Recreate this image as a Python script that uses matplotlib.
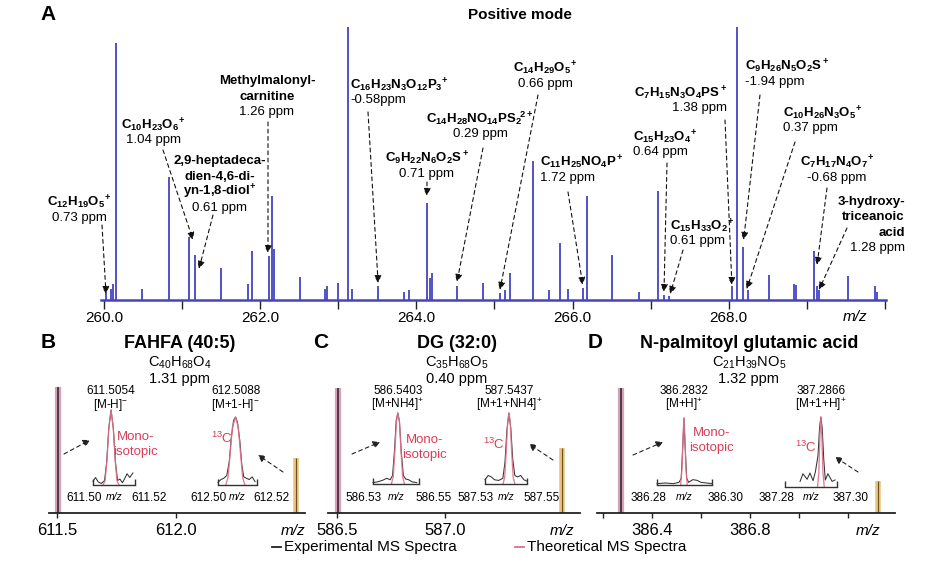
import matplotlib
matplotlib.use('Agg')
import matplotlib.pyplot as plt
import matplotlib.transforms as mtransforms
from matplotlib.lines import Line2D

plt.rcParams['font.family'] = ['Liberation Sans', 'DejaVu Sans']
plt.rcParams['mathtext.fontset'] = 'custom'
plt.rcParams['mathtext.rm'] = 'Liberation Sans'
plt.rcParams['mathtext.it'] = 'Liberation Sans:italic'
plt.rcParams['mathtext.bf'] = 'Liberation Sans:bold'
plt.rcParams['mathtext.default'] = 'regular'

# ---------------- DATA ----------------
# Panel A: positive-mode spectrum (m/z, relative intensity)
a_mz = [260.02, 260.09, 260.12, 260.15, 260.49, 260.83, 261.09, 261.17, 261.50, 261.85,
        261.90, 262.11, 262.15, 262.18, 262.51, 262.83, 262.86, 263.00, 263.13, 263.17,
        263.51, 263.84, 263.90, 264.13, 264.17, 264.20, 264.52, 264.85, 265.07, 265.13,
        265.20, 265.49, 265.70, 265.84, 265.94, 266.13, 266.18, 266.50, 266.85, 267.09,
        267.17, 267.24, 268.04, 268.10, 268.18, 268.24, 268.51, 268.83, 268.86, 269.09,
        269.13, 269.16, 269.53, 269.87, 269.90]
a_int = [2.5, 4, 6, 94, 4, 45, 23, 16.5, 11.7, 6,
         18, 16, 38, 18.7, 8.4, 4, 5, 6.3, 100, 4,
         5, 3, 3.5, 35.5, 8, 10, 5, 6.3, 2.5, 3.5,
         10, 51, 3.7, 21, 4, 4.5, 38, 16.5, 3, 40,
         2, 1.5, 5, 100, 19.5, 3.5, 9, 6, 5.5, 18,
         5, 3.5, 8.8, 5, 3]
a_ticks = [260, 261, 262, 263, 264, 265, 266, 267, 268, 269, 270]
a_ticklabels = ['260.0', '', '262.0', '', '264.0', '', '266.0', '', '268.0', '', '']

ann_labels = [
    [r'$\mathbf{C_{12}H_{19}O_5{}^{\!+}}$'],
    [r'$\mathbf{C_{10}H_{23}O_6{}^{\!+}}$'],
    ['2,9-heptadeca-', 'dien-4,6-di-', r'yn-1,8-diol$^\mathbf{+}$'],
    ['Methylmalonyl-', 'carnitine'],
    [r'$\mathbf{C_{16}H_{23}N_3O_{12}P_3{}^{\!+}}$'],
    [r'$\mathbf{C_9H_{22}N_6O_2S^+}$'],
    [r'$\mathbf{C_{14}H_{28}NO_{14}PS_2{}^{\!2+}}$'],
    [r'$\mathbf{C_{14}H_{29}O_5{}^{\!+}}$'],
    [r'$\mathbf{C_{11}H_{25}NO_4P^+}$'],
    [r'$\mathbf{C_{15}H_{23}O_4{}^{\!+}}$'],
    [r'$\mathbf{C_{15}H_{33}O_2{}^{\!+}}$'],
    [r'$\mathbf{C_7H_{15}N_3O_4PS^+}$'],
    [r'$\mathbf{C_9H_{26}N_5O_2S^+}$'],
    [r'$\mathbf{C_{10}H_{26}N_3O_5{}^{\!+}}$'],
    [r'$\mathbf{C_7H_{17}N_4O_7{}^{\!+}}$'],
    ['3-hydroxy-', 'triceanoic', 'acid'],
]
ann_ppm = ['0.73 ppm', '1.04 ppm', '0.61 ppm', '1.26 ppm', '-0.58ppm', '0.71 ppm',
           '0.29 ppm', '0.66 ppm', '1.72 ppm', '0.64 ppm', '0.61 ppm', '1.38 ppm',
           '-1.94 ppm', '0.37 ppm', '-0.68 ppm', '1.28 ppm']
ann_tip_mz = [260.026, 261.14, 261.216, 262.10, 263.51, 264.135, 264.52, 265.07,
              266.13, 267.17, 267.25, 268.04, 268.19, 268.23, 269.13, 269.155]
ann_tip_int = [2.2, 22, 11.4, 17.2, 6.2, 38.1, 6.6, 3.7,
               5.5, 2.9, 2.2, 5.5, 22, 4.0, 12.8, 3.7]

# Panels B-D: main peaks (m/z, relative intensity)
b_main_mz = [611.5054, 612.5088]
b_main_int = [100, 44]
c_main_mz = [586.505, 587.542]
c_main_int = [100, 52]
d_main_mz = [386.273, 387.322]
d_main_int = [100, 26]

# Inset profiles (experimental / theoretical)
b1_exp_mz = [611.5000, 611.5012, 611.5025, 611.5040, 611.5055, 611.5065, 611.5075, 611.5086, 611.5097,
             611.5107, 611.5117, 611.5128, 611.5140, 611.5150, 611.5162, 611.5175, 611.5190]
b1_exp_int = [5, 10, 4, 2, 6, 30, 75, 100, 75, 30, 6, 8, 3, 8, 15, 10, 16]
b1_theo_mz = [611.5048, 611.5058, 611.5066, 611.5076, 611.5086, 611.5096, 611.5106, 611.5114, 611.5124]
b1_theo_int = [0, 6, 32, 78, 100, 78, 32, 6, 0]

b2_exp_mz = [612.5000, 612.5015, 612.5030, 612.5045, 612.5058, 612.5068, 612.5080, 612.5090, 612.5100,
             612.5112, 612.5122, 612.5132, 612.5145, 612.5160, 612.5175, 612.5190]
b2_exp_int = [4, 8, 10, 14, 35, 70, 95, 100, 92, 65, 30, 12, 10, 8, 12, 5]
b2_theo_mz = [612.5040, 612.5052, 612.5062, 612.5074, 612.5090, 612.5104, 612.5116, 612.5126, 612.5138]
b2_theo_int = [0, 12, 45, 85, 100, 85, 45, 12, 0]

c1_exp_mz = [586.5300, 586.5320, 586.5340, 586.5360, 586.5375, 586.5385, 586.5393, 586.5401, 586.5408,
             586.5415, 586.5423, 586.5432, 586.5442, 586.5455, 586.5470, 586.5490]
c1_exp_int = [2, 3, 5, 8, 6, 12, 45, 90, 100, 88, 45, 12, 7, 6, 3, 2]
c1_theo_mz = [586.5380, 586.5388, 586.5395, 586.5402, 586.5408, 586.5415, 586.5422, 586.5429, 586.5437]
c1_theo_int = [0, 10, 45, 88, 100, 88, 45, 10, 0]

c2_exp_mz = [587.5300, 587.5315, 587.5330, 587.5345, 587.5365, 587.5385, 587.5395, 587.5404, 587.5414,
             587.5423, 587.5432, 587.5442, 587.5455, 587.5470, 587.5485, 587.5500]
c2_exp_int = [6, 12, 10, 6, 5, 8, 30, 75, 100, 78, 35, 12, 10, 12, 6, 4]
c2_theo_mz = [587.5386, 587.5394, 587.5401, 587.5408, 587.5414, 587.5420, 587.5427, 587.5434, 587.5442]
c2_theo_int = [0, 10, 45, 88, 100, 88, 45, 10, 0]

d1_exp_mz = [386.2800, 386.2830, 386.2860, 386.2880, 386.2888, 386.2894, 386.2898, 386.2902, 386.2908,
             386.2915, 386.2930, 386.2945, 386.2960, 386.2980, 386.3000]
d1_exp_int = [2, 3, 2, 4, 10, 60, 100, 60, 10, 4, 8, 7, 4, 3, 2]
d1_theo_mz = [386.2886, 386.2891, 386.2895, 386.2898, 386.2901, 386.2905, 386.2910]
d1_theo_int = [0, 25, 75, 100, 75, 25, 0]

d2_exp_mz = [387.2858, 387.2869, 387.2885, 387.2896, 387.2908, 387.2917, 387.2927, 387.2933, 387.2938,
             387.2943, 387.2949, 387.2955, 387.2965, 387.2981, 387.2992]
d2_exp_int = [8, 19, 11, 20, 9, 22, 45, 85, 100, 85, 40, 10, 19, 8, 10]
d2_theo_mz = [387.2925, 387.2930, 387.2934, 387.2938, 387.2942, 387.2946, 387.2951]
d2_theo_int = [0, 20, 70, 100, 70, 20, 0]

# ---------------- STYLE / LAYOUT ----------------
BLUE = '#4444c4'
PINK = '#e0708a'
RED = '#d83e58'
PINK_BAND = '#d9a0bd'
YEL_BAND = '#ebc37c'

W, H = 945, 561
fig = plt.figure(figsize=(W / 100, H / 100), dpi=100)


def F(x, y):
    return (x / W, 1 - y / H)


def rect(l, t, r, b):
    return [l / W, 1 - b / H, (r - l) / W, (b - t) / H]


def ftext(x, y, s, **kw):
    kw.setdefault('ha', 'center')
    kw.setdefault('va', 'center')
    return fig.text(x / W, 1 - y / H, s, **kw)


def farrow(x0, y0, x1, y1):
    fig.add_artist(matplotlib.patches.FancyArrowPatch(
        F(x0, y0), F(x1, y1), transform=fig.transFigure,
        arrowstyle='-|>,head_length=4,head_width=2.2', linestyle=(0, (3.5, 3)),
        lw=0.8, color='#222', shrinkA=0, shrinkB=0))


# ---------------- PANEL A ----------------
ftext(48, 15, 'A', fontsize=15, fontweight='bold')
ftext(520, 15, 'Positive mode', fontsize=11, fontweight='bold')

axA = fig.add_axes(rect(101, 27, 886, 300))
axA.patch.set_alpha(0)
axA.vlines(a_mz, 0, a_int, color=BLUE, lw=1.3)
axA.set_xlim(259.9616, 270.0128)
axA.set_ylim(0, 100)
for s in ['top', 'right', 'left']:
    axA.spines[s].set_visible(False)
axA.spines['bottom'].set_color(BLUE)
axA.spines['bottom'].set_linewidth(1.8)
axA.set_yticks([])
axA.set_xticks(a_ticks)
axA.set_xticklabels(a_ticklabels, fontsize=11)
axA.tick_params(axis='x', length=6.5, width=1, color='#222', pad=1.5)
ftext(855, 317, 'm/z', fontsize=11, style='italic')

ann_text_px = [(79, 202, 'center'), (153, 125, 'center'), (220, 161, 'center'), (267, 81, 'center'),
               (350, 85, 'left'), (427, 158, 'center'), (480, 118, 'center'), (545, 68, 'center'),
               (540, 162, 'left'), (633, 137, 'left'), (670, 226, 'left'), (727, 93, 'right'),
               (745, 66, 'left'), (783, 113, 'left'), (837, 162, 'center'), (905, 202, 'right')]
ann_line_px = [(102, 225), (163, 150), (213, 215), (268, 122), (368, 112), (427, 182), (483, 148),
               (538, 95), (568, 192), (667, 163), (683, 250), (725, 120), (760, 95), (795, 142),
               (827, 188), (847, 228)]
LS = 15.5
for i in range(len(ann_labels)):
    x, y, ha = ann_text_px[i]
    for line in ann_labels[i]:
        ftext(x, y, line, ha=ha, fontsize=9.5, fontweight='bold')
        y += LS
    ftext(x, y, ann_ppm[i], ha=ha, fontsize=9.5)
    sx, sy = ann_line_px[i]
    axA.annotate('', xy=(ann_tip_mz[i], ann_tip_int[i]), xycoords='data',
                 xytext=F(sx, sy), textcoords='figure fraction', annotation_clip=False,
                 arrowprops=dict(arrowstyle='-|>,head_length=0.45,head_width=0.22',
                                 linestyle=(0, (3.5, 3)), lw=0.8, color='#111',
                                 shrinkA=0, shrinkB=0))

# ---------------- PANELS B-D ----------------
panels = [
    dict(letter='B', letter_px=(48, 343), title='FAHFA (40:5)', cx=180,
         formula=r'C$_{40}$H$_{68}$O$_4$', ppm='1.31 ppm',
         rect=(49, 387, 305, 513), xlim=(611.4662, 612.5464),
         ticks=[611.5, 612.0], ticklabels=['611.5', '612.0'], mzlabel_x=293,
         main_mz=b_main_mz, main_int=b_main_int,
         insets=[
             dict(rect=(93, 410, 135, 485), lim=(611.50, 611.52), labels=('611.50', '611.52'),
                  exp=(b1_exp_mz, b1_exp_int), theo=(b1_theo_mz, b1_theo_int),
                  top='611.5054', ion=r'[M-H]$^{-}$'),
             dict(rect=(218, 417, 257, 485), lim=(612.50, 612.52), labels=('612.50', '612.52'),
                  exp=(b2_exp_mz, b2_exp_int), theo=(b2_theo_mz, b2_theo_int),
                  top='612.5088', ion=r'[M+1-H]$^{-}$')],
         mono=(136, 437), c13=(222, 438),
         arrows=[(64, 454, 90, 440), (283, 472, 258, 455)]),
    dict(letter='C', letter_px=(321, 343), title='DG (32:0)', cx=457,
         formula=r'C$_{35}$H$_{68}$O$_5$', ppm='0.40 ppm',
         rect=(328, 388, 580, 513), xlim=(586.4583, 587.625),
         ticks=[586.5, 587.0], ticklabels=['586.5', '587.0'], mzlabel_x=562,
         main_mz=c_main_mz, main_int=c_main_int,
         insets=[
             dict(rect=(373, 413, 419, 484), lim=(586.53, 586.55), labels=('586.53', '586.55'),
                  exp=(c1_exp_mz, c1_exp_int), theo=(c1_theo_mz, c1_theo_int),
                  top='586.5403', ion=r'[M+NH4]$^{+}$'),
             dict(rect=(485, 413, 527, 484), lim=(587.53, 587.55), labels=('587.53', '587.55'),
                  exp=(c2_exp_mz, c2_exp_int), theo=(c2_theo_mz, c2_theo_int),
                  top='587.5437', ion=r'[M+1+NH4]$^{+}$')],
         mono=(425, 440), c13=(494, 444),
         arrows=[(352, 454, 380, 442), (553, 460, 529, 444)]),
    dict(letter='D', letter_px=(595, 343), title='N-palmitoyl glutamic acid', cx=749,
         formula=r'C$_{21}$H$_{39}$NO$_5$', ppm='1.32 ppm',
         rect=(597, 388, 895, 513), xlim=(386.1755, 387.392),
         ticks=[386.2, 386.4, 386.6, 386.8, 387.0, 387.2],
         ticklabels=['', '386.4', '', '386.8', '', ''], mzlabel_x=868,
         main_mz=d_main_mz, main_int=d_main_int,
         insets=[
             dict(rect=(657, 418, 712, 485), lim=(386.28, 386.30), labels=('386.28', '386.30'),
                  exp=(d1_exp_mz, d1_exp_int), theo=(d1_theo_mz, d1_theo_int),
                  top='386.2832', ion=r'[M+H]$^{+}$'),
             dict(rect=(785, 417, 837, 487), lim=(387.28, 387.30), labels=('387.28', '387.30'),
                  exp=(d2_exp_mz, d2_exp_int), theo=(d2_theo_mz, d2_theo_int),
                  top='387.2866', ion=r'[M+1+H]$^{+}$')],
         mono=(712, 433), c13=(806, 447),
         arrows=[(633, 455, 663, 442), (858, 472, 835, 457)]),
]

for p in panels:
    ftext(*p['letter_px'], p['letter'], fontsize=15, fontweight='bold')
    ftext(p['cx'], 343, p['title'], fontsize=13, fontweight='bold')
    ftext(p['cx'], 363, p['formula'], fontsize=10.5)
    ftext(p['cx'], 379, p['ppm'], fontsize=10.5)

    ax = fig.add_axes(rect(*p['rect']))
    ax.patch.set_alpha(0)
    ax.vlines(p['main_mz'][0], 0, p['main_int'][0], color=PINK_BAND, lw=4.5)
    ax.vlines(p['main_mz'][0], 0, p['main_int'][0], color='#222', lw=1.1)
    ax.vlines(p['main_mz'][1], 0, p['main_int'][1], color=YEL_BAND, lw=4)
    ax.vlines(p['main_mz'][1], 0, p['main_int'][1], color='#6b5020', lw=0.8)
    ax.set_xlim(*p['xlim'])
    ax.set_ylim(0, 100)
    for s in ['top', 'right', 'left']:
        ax.spines[s].set_visible(False)
    ax.spines['bottom'].set_linewidth(1.3)
    ax.spines['bottom'].set_color('#222')
    ax.set_yticks([])
    ax.set_xticks(p['ticks'])
    ax.set_xticklabels(p['ticklabels'], fontsize=12)
    ax.tick_params(axis='x', length=3.6, width=1, color='#222', pad=3.5)
    ftext(p['mzlabel_x'], 531, 'm/z', fontsize=11, style='italic')

    for ins in p['insets']:
        l, t, r, b = ins['rect']
        axi = fig.add_axes(rect(l, t, r, b))
        axi.patch.set_alpha(0)
        axi.plot(*ins['exp'], color='#333', lw=0.75, clip_on=False)
        axi.plot(*ins['theo'], color=PINK, lw=0.95, clip_on=False, alpha=0.9)
        axi.set_xlim(*ins['lim'])
        axi.set_ylim(0, 100)
        for s in ['top', 'right', 'left']:
            axi.spines[s].set_visible(False)
        axi.spines['bottom'].set_linewidth(1.0)
        axi.spines['bottom'].set_color('#333')
        axi.set_yticks([])
        axi.set_xticks(list(ins['lim']))
        axi.set_xticklabels([])
        axi.tick_params(axis='x', direction='in', length=4, width=1, color='#333')
        ftext(l + 9, 498, ins['labels'][0], ha='right', fontsize=8.5)
        ftext(r - 4, 498, ins['labels'][1], ha='left', fontsize=8.5)
        ftext((l + r) / 2, 497, 'm/z', fontsize=7.5, style='italic')
        peak_mz = ins['exp'][0][ins['exp'][1].index(max(ins['exp'][1]))]
        tr = mtransforms.blended_transform_factory(axi.transData, fig.transFigure)
        axi.text(peak_mz, 1 - 391 / H, ins['top'], transform=tr, ha='center', va='center', fontsize=8.5)
        axi.text(peak_mz, 1 - 405 / H, ins['ion'], transform=tr, ha='center', va='center', fontsize=8.5)

    ftext(p['mono'][0], p['mono'][1], 'Mono-', fontsize=9.5, color=RED)
    ftext(p['mono'][0], p['mono'][1] + 15, 'isotopic', fontsize=9.5, color=RED)
    ftext(p['c13'][0], p['c13'][1], r'$^{13}$C', fontsize=9.5, color=RED)
    for (x0, y0, x1, y1) in p['arrows']:
        farrow(x0, y0, x1, y1)

# ---------------- LEGEND ----------------
fig.add_artist(Line2D([272 / W, 281 / W], [1 - 547 / H] * 2, color='#222', lw=1.3))
ftext(284, 547, 'Experimental MS Spectra', ha='left', fontsize=11)
fig.add_artist(Line2D([515 / W, 524 / W], [1 - 547 / H] * 2, color=PINK, lw=1.3))
ftext(527, 547, 'Theoretical MS Spectra', ha='left', fontsize=11)

fig.savefig('out.png', dpi=100)
